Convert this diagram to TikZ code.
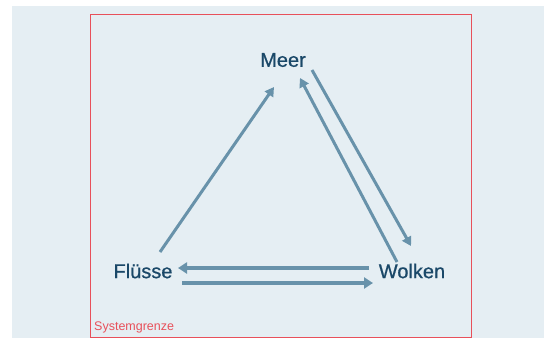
\documentclass[tikz,border=0pt]{standalone}
\usepackage{fontspec}
\setmainfont{Liberation Sans}
\newfontfamily\lblfont[FakeBold=0.8]{Liberation Sans}
\usetikzlibrary{arrows.meta}
\definecolor{bgc}{HTML}{E5EEF3}
\definecolor{arc}{HTML}{6892AA}
\definecolor{txc}{HTML}{1A4868}
\definecolor{redc}{HTML}{E8505A}
\tikzset{
  lbl/.style={text=txc,font=\lblfont\fontsize{20}{22}\selectfont,inner sep=0pt},
  flow/.style={draw=arc,line width=3.6pt,-{Triangle[length=9pt,width=11pt]}},
  thin flow/.style={draw=arc,line width=3pt,-{Triangle[length=9pt,width=10pt]}}
}
\begin{document}
\begin{tikzpicture}[x=1pt,y=-1pt]
\useasboundingbox (0,0) rectangle (544,338);
\fill[white] (0,0) rectangle (544,338);
\fill[bgc] (12,6) rectangle (544,338);
\draw[redc,line width=0.7pt] (90,14) rectangle (471,337);
\node[text=redc,font=\fontsize{12.5}{14}\selectfont,anchor=west,inner sep=0pt] (sg) at (94,327) {Systemgrenze};
\node[lbl] (meer) at (283,60) {Meer};
\node[lbl] (fl) at (143,271) {Flüsse};
\node[lbl] (wo) at (412,271) {Wolken};
\coordinate (a1s) at (160,252);
\coordinate (a1e) at (274,87);
\coordinate (a2s) at (312,70);
\coordinate (a2e) at (411,246);
\coordinate (a3s) at (397,262);
\coordinate (a3e) at (300,78);
\coordinate (a4s) at (369,268);
\coordinate (a4e) at (178,268);
\coordinate (a5s) at (182,283);
\coordinate (a5e) at (373,283);
\draw[thin flow] (a1s) -- (a1e);
\draw[thin flow] (a2s) -- (a2e);
\draw[thin flow] (a3s) -- (a3e);
\draw[flow] (a4s) -- (a4e);
\draw[flow] (a5s) -- (a5e);
\end{tikzpicture}
\end{document}
